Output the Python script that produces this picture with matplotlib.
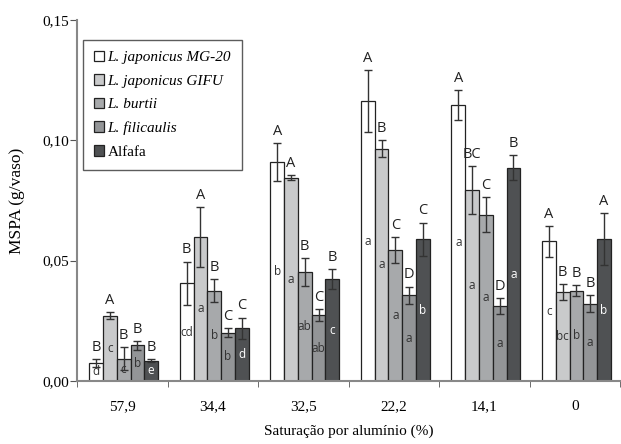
import numpy as np
import matplotlib
matplotlib.use("Agg")
import matplotlib.pyplot as plt

groups = ["57,9", "34,4", "32,5", "22,2", "14,1", "0"]
species = ["L. japonicus MG-20", "L. japonicus GIFU", "L. burtii", "L. filicaulis", "Alfafa"]

mg20 = [0.0075, 0.0406, 0.0911, 0.1163, 0.1147, 0.0580]
gifu = [0.0271, 0.0598, 0.0845, 0.0965, 0.0794, 0.0370]
burtii = [0.0093, 0.0375, 0.0453, 0.0543, 0.0691, 0.0375]
filicaulis = [0.0148, 0.0201, 0.0273, 0.0356, 0.0312, 0.0321]
alfafa = [0.0084, 0.0219, 0.0423, 0.0589, 0.0886, 0.0589]

err_mg20 = [0.0017, 0.0090, 0.0079, 0.0128, 0.0062, 0.0063]
err_gifu = [0.0014, 0.0125, 0.0010, 0.0036, 0.0099, 0.0033]
err_burtii = [0.0047, 0.0047, 0.0057, 0.0054, 0.0072, 0.0024]
err_filicaulis = [0.0019, 0.0018, 0.0025, 0.0036, 0.0032, 0.0036]
err_alfafa = [0.0007, 0.0044, 0.0041, 0.0069, 0.0052, 0.0108]

upper_mg20 = ["B", "B", "A", "A", "A", "A"]
upper_gifu = ["A", "A", "A", "B", "BC", "B"]
upper_burtii = ["B", "B", "B", "C", "C", "B"]
upper_filicaulis = ["B", "C", "C", "D", "D", "B"]
upper_alfafa = ["B", "C", "B", "C", "B", "A"]

lower_mg20 = ["d", "cd", "b", "a", "a", "c"]
lower_gifu = ["c", "a", "a", "a", "a", "bc"]
lower_burtii = ["c", "b", "ab", "a", "a", "b"]
lower_filicaulis = ["b", "b", "ab", "a", "a", "a"]
lower_alfafa = ["e", "d", "c", "b", "a", "b"]

values = [mg20, gifu, burtii, filicaulis, alfafa]
errors = [err_mg20, err_gifu, err_burtii, err_filicaulis, err_alfafa]
uppers = [upper_mg20, upper_gifu, upper_burtii, upper_filicaulis, upper_alfafa]
lowers = [lower_mg20, lower_gifu, lower_burtii, lower_filicaulis, lower_alfafa]
colors = ["#ffffff", "#c9cacb", "#a7a9ab", "#939597", "#4f5153"]
lower_colors = ["#333333", "#333333", "#333333", "#333333", "#ffffff"]

fig = plt.figure(figsize=(6.21, 4.44), dpi=100)
ax = fig.add_axes([0.124, 0.142, 0.875, 0.813])

x = np.arange(len(groups))
width = 0.152
for i in range(5):
    pos = x + (i - 2) * width + 0.015
    ax.bar(pos, values[i], width, color=colors[i], edgecolor="#222222",
           linewidth=0.9, label=species[i], zorder=2)
    ax.errorbar(pos, values[i], yerr=errors[i], fmt="none", ecolor="#333333",
                elinewidth=1.0, capsize=3, capthick=1.0, zorder=3)
    for j in range(len(groups)):
        top = values[i][j] + errors[i][j]
        ax.annotate(uppers[i][j], (pos[j], top), xytext=(0, 3),
                    textcoords="offset points", ha="center", va="bottom",
                    fontsize=10.5, family="Open Sans", color="#222222")
        ax.text(pos[j], values[i][j] * 0.5, lowers[i][j], ha="center",
                va="center", fontsize=8.5, family="Open Sans",
                color=lower_colors[i], zorder=4)

ax.set_xlim(-0.5, 5.5)
ax.set_ylim(0, 0.15)
ax.set_yticks([0, 0.05, 0.10, 0.15])
ax.set_yticklabels(["0,00", "0,05", "0,10", "0,15"], family="Liberation Serif", fontsize=11)
ax.set_xticks(x)
ax.set_xticklabels(groups, family="Liberation Serif", fontsize=11)
ax.set_xticks(np.arange(-0.5, 6.0, 1.0), minor=True)
ax.tick_params(axis="x", which="major", length=0, pad=14)
ax.tick_params(axis="x", which="minor", length=4, color="#555555", direction="out")
ax.tick_params(axis="y", length=5, color="#555555", direction="out", pad=1)

for s in ["top", "right"]:
    ax.spines[s].set_visible(False)
for s in ["left", "bottom"]:
    ax.spines[s].set_color("#888888")
    ax.spines[s].set_linewidth(1.5)

ax.set_xlabel("Saturação por alumínio (%)", family="Liberation Serif", fontsize=11, labelpad=8)
ax.set_ylabel("MSPA (g/vaso)", family="Liberation Serif", fontsize=12.5, labelpad=12)

leg = ax.legend(loc="upper left", bbox_to_anchor=(0.011, 0.945), borderaxespad=0,
                fancybox=False, handlelength=0.7, handleheight=0.7, handletextpad=0.2,
                labelspacing=0.65, borderpad=0.7, prop={"family": "Liberation Serif", "size": 11})
leg.get_frame().set_edgecolor("#333333")
leg.get_frame().set_linewidth(1.0)
for t in leg.get_texts()[:4]:
    t.set_style("italic")

fig.savefig("out.png", dpi=100)
